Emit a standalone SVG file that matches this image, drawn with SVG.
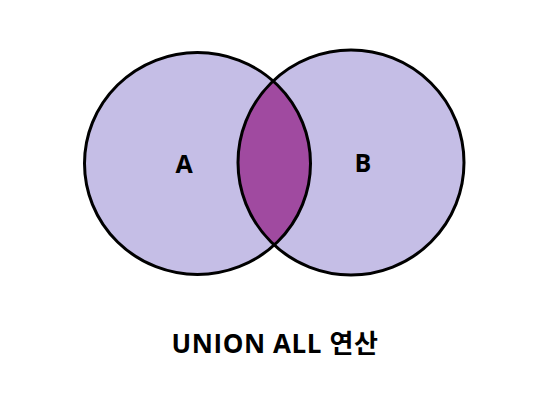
<svg xmlns="http://www.w3.org/2000/svg" width="555" height="416" viewBox="0 0 555 416">
<style>
.set{fill:#C5BEE6}
.edge{fill:none;stroke:#000;stroke-width:3}
.lbl{font-family:"Open Sans","Noto Sans CJK KR",sans-serif;font-weight:bold;fill:#000;text-anchor:middle}
</style>
<defs>
<clipPath id="clipA"><ellipse cx="197.5" cy="163.5" rx="113" ry="111"/></clipPath>
</defs>
<rect width="555" height="416" fill="#fff"/>
<g id="setA"><ellipse class="set" cx="197.5" cy="163.5" rx="113" ry="111"/></g>
<g id="setB"><ellipse class="set" cx="351" cy="162.5" rx="113" ry="112.5"/></g>
<g id="intersection"><ellipse cx="351" cy="162.5" rx="113" ry="112.5" fill="#A04AA0" clip-path="url(#clipA)"/></g>
<g id="outlines">
<ellipse class="edge" cx="197.5" cy="163.5" rx="113" ry="111"/>
<ellipse class="edge" cx="351" cy="162.5" rx="113" ry="112.5"/>
</g>
<text class="lbl" x="184" y="172.5" font-size="25">A</text>
<text class="lbl" x="363" y="172" font-size="25">B</text>
<text class="lbl" x="275" y="352.5" font-size="26" letter-spacing="0.6">UNION ALL 연산</text>
</svg>
